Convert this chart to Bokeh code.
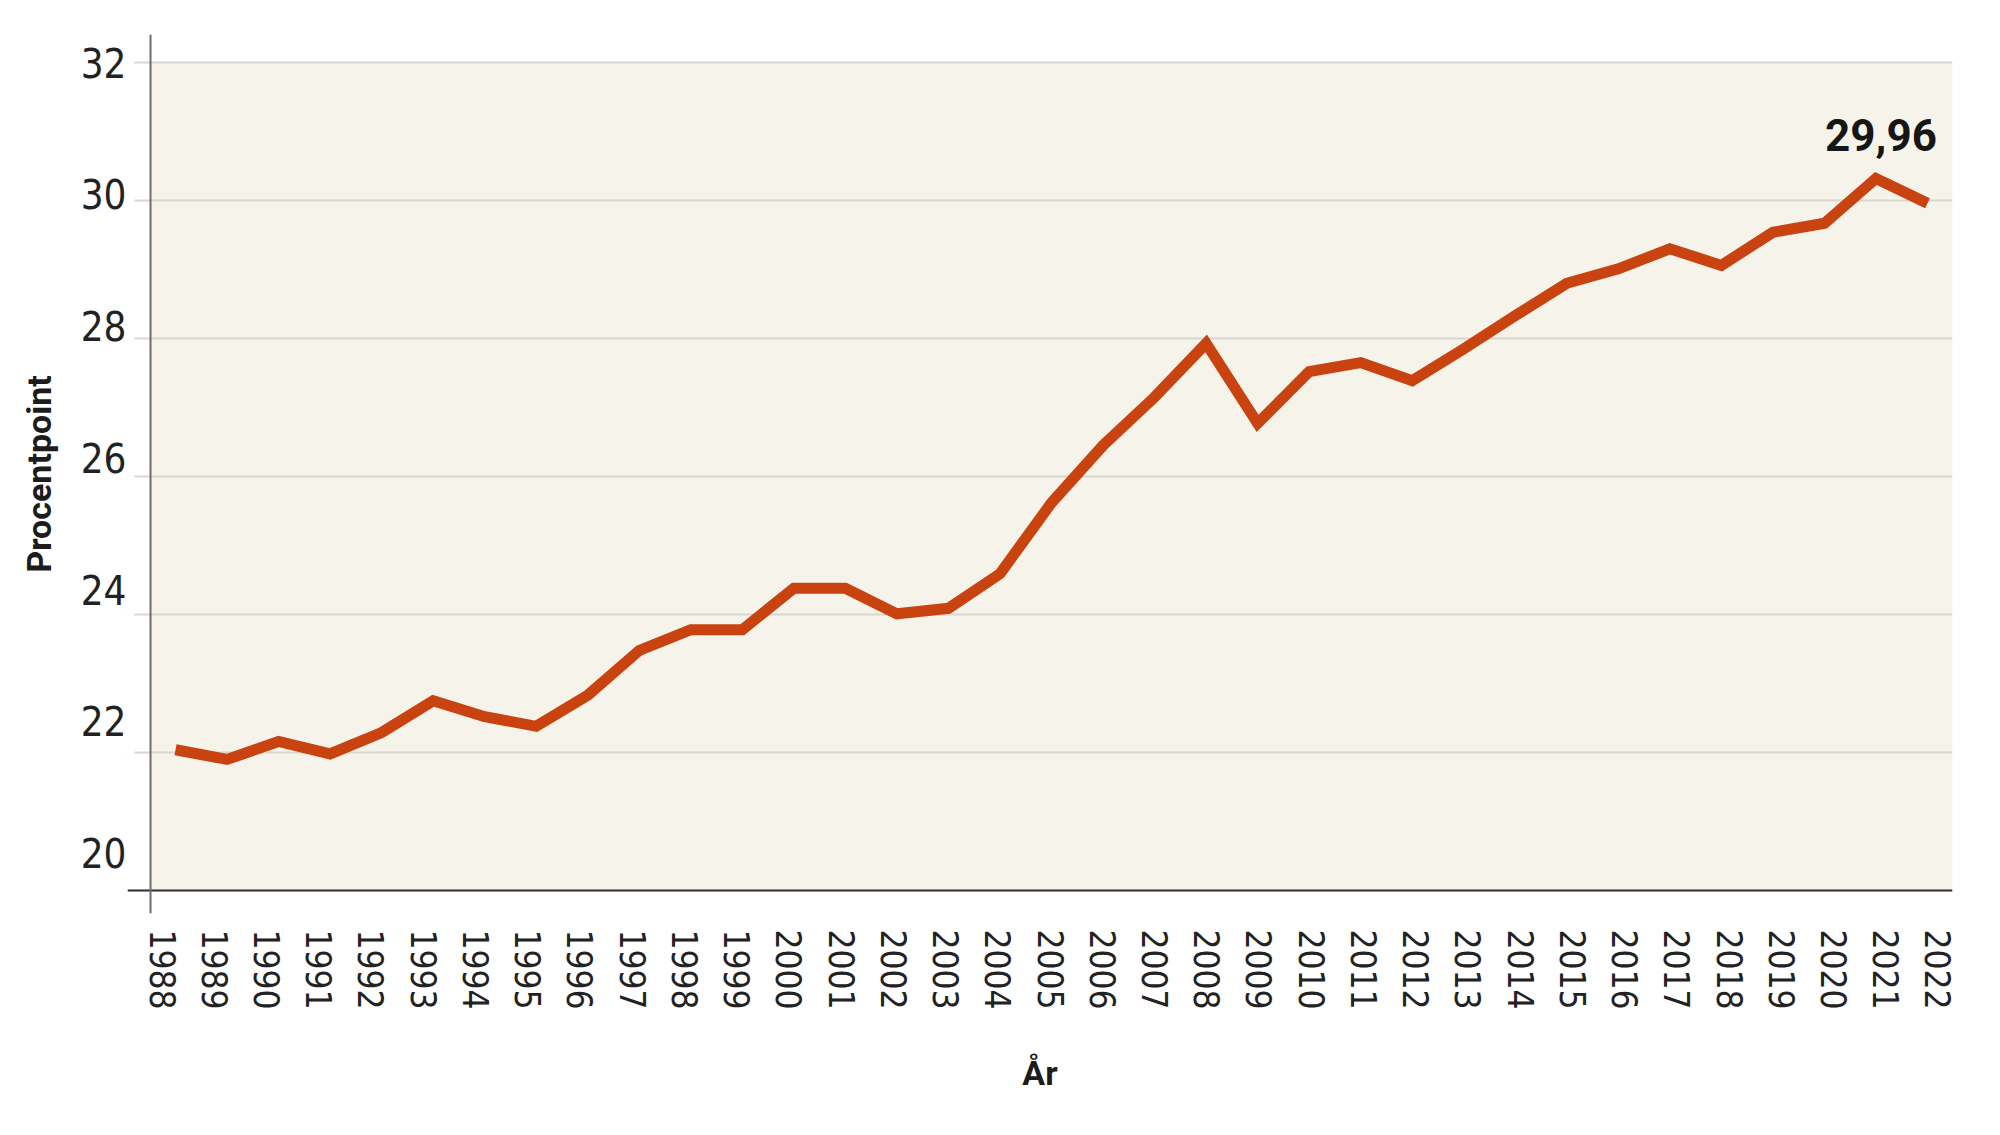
from bokeh.plotting import figure
from bokeh.models import Range1d, FixedTicker, Span, BoxAnnotation, CustomJSTickFormatter
from bokeh.core.properties import value
from bokeh.embed import file_html
from bokeh.resources import INLINE

# ---- data ----
years = list(range(1988, 2023))
values = [22.04, 21.90, 22.16, 21.98, 22.29, 22.75, 22.52, 22.38, 22.83, 23.48,
          23.78, 23.78, 24.38, 24.38, 24.01, 24.09, 24.59, 25.62, 26.45, 27.15,
          27.93, 26.77, 27.52, 27.65, 27.39, 27.85, 28.33, 28.80, 29.01, 29.30,
          29.06, 29.54, 29.67, 30.32, 29.96]
y_ticks = [20, 22, 24, 26, 28, 30, 32]
x_title = "År"
y_title = "Procentpoint"
end_label = f"{values[-1]:.2f}".replace(".", ",")

# ---- style ----
LINE = "#C8430F"
CREAM = "#F6F4EA"
GRID = "#D8D6CE"
NARROW = "'Liberation Sans Narrow', 'DejaVu Sans Condensed', 'Roboto Condensed', sans-serif"

x0, x1 = years[0] - 0.932, years[-1] + 0.485
y0, y1 = y_ticks[0] - 0.333, y_ticks[-1] + 0.406
yaxis_x = years[0] - 0.485

p = figure(width=1992, height=1127,
           x_range=Range1d(x0, x1), y_range=Range1d(y0, y1),
           output_backend="svg", toolbar_location=None,
           min_border_left=127, min_border_right=40,
           min_border_top=34, min_border_bottom=214)
p.outline_line_color = None
p.background_fill_color = "white"
p.border_fill_color = "white"

# cream plotting area
p.add_layout(BoxAnnotation(left=yaxis_x, bottom=y_ticks[0], top=y_ticks[-1],
                           fill_color=CREAM, fill_alpha=1, line_color=None, level="image"))

# grid
p.xgrid.visible = False
p.ygrid.ticker = FixedTicker(ticks=y_ticks)
p.ygrid.grid_line_color = GRID
p.ygrid.grid_line_width = 2

# mask to shorten grid stubs left of axis
p.add_layout(BoxAnnotation(right=years[0] - 0.796, bottom=y_ticks[0] + 0.05,
                           fill_color="white", fill_alpha=1, line_color=None))

# axis lines as spans
p.add_layout(Span(location=y_ticks[0], dimension="width", line_color="#333333", line_width=2))
p.add_layout(Span(location=yaxis_x, dimension="height", line_color="#6E6E6E", line_width=2))

# line
p.line(years, values, line_width=11, line_color=LINE, line_join="miter")

# end label
p.text(x=[years[-2]], y=[values[-2]], text=[end_label],
       text_font=value("Roboto"), text_font_style="bold", text_font_size=value("44px"),
       text_color="#161616", text_align="center", text_baseline="alphabetic",
       x_offset=5, y_offset=-43)

# x axis (year labels spread slightly wider than the points, as in the original)
xspread, xshift = 1.01368, -0.252
xtick_pos = [years[0] + xshift + (y - years[0]) * xspread for y in years]
xa = p.xaxis[0]
xa.ticker = FixedTicker(ticks=xtick_pos)
xa.formatter = CustomJSTickFormatter(
    code=f"return String(Math.round({years[0]} + (tick - {years[0] + xshift}) / {xspread}));")
xa.major_label_orientation = "vertical"
xa.axis_line_color = None
xa.major_tick_line_color = None
xa.minor_tick_line_color = None
xa.major_tick_out = 0
xa.major_label_standoff = 16
xa.major_label_text_font = NARROW
xa.major_label_text_font_size = "35px"
xa.major_label_text_color = "#222222"
xa.axis_label = x_title
xa.axis_label_text_font = "Roboto"
xa.axis_label_text_font_style = "bold"
xa.axis_label_text_font_size = "34px"
xa.axis_label_text_color = "#1C1C1C"
xa.axis_label_standoff = 40

# y axis (labels drawn slightly compressed as in the original)
shrink = 0.955
top = y_ticks[-1]
label_pos = [top - (top - t) * shrink for t in y_ticks]
ya = p.yaxis[0]
ya.ticker = FixedTicker(ticks=label_pos)
ya.formatter = CustomJSTickFormatter(
    code=f"return String(Math.round({top} - ({top} - tick) / {shrink}));")
ya.axis_line_color = None
ya.major_tick_line_color = None
ya.minor_tick_line_color = None
ya.major_tick_out = 0
ya.major_label_standoff = 1
ya.major_label_text_font = NARROW
ya.major_label_text_font_size = "40px"
ya.major_label_text_color = "#222222"
ya.axis_label = y_title
ya.axis_label_text_font = "Roboto"
ya.axis_label_text_font_style = "bold"
ya.axis_label_text_font_size = "34px"
ya.axis_label_text_color = "#1C1C1C"
ya.axis_label_standoff = 19

open("out.html", "w").write(file_html(p, INLINE))
